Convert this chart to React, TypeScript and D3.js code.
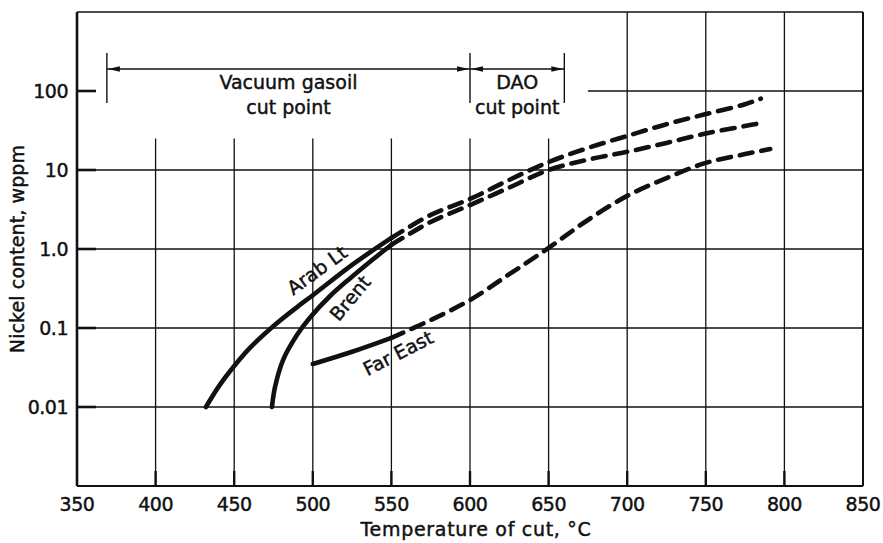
import React, { useEffect, useRef } from "react";
import * as d3 from "d3";

// axis ticks
const xTicks = [350, 400, 450, 500, 550, 600, 650, 700, 750, 800, 850];
const yTicks = [100, 10, 1, 0.1, 0.01];
const yTickLabels = ["100", "10", "1.0", "0.1", "0.01"];

// grid lines: the left ones stop under the cut point notes
const shortGridTemps = [400, 450, 500, 550, 600, 650];
const fullGridTemps = [700, 750, 800];
const shortGridTop = 25; // wppm
const grid100From = 675; // °C, where the 100 line starts

// curves (temperature °C, nickel wppm)
const arabTemp = [432, 440, 450, 460, 475, 490, 500, 525, 550, 575, 600, 625, 650, 675, 700, 725, 750, 775, 785];
const arabNi = [0.01, 0.018, 0.033, 0.056, 0.106, 0.184, 0.26, 0.63, 1.38, 2.7, 4.3, 7.5, 12.6, 19, 27, 38, 51, 68, 80];

const brentTemp = [474, 476, 481, 490, 498, 511, 524, 536, 550, 575, 600, 625, 650, 675, 700, 725, 750, 775, 787];
const brentNi = [0.01, 0.018, 0.039, 0.082, 0.134, 0.254, 0.43, 0.68, 1.13, 2.2, 3.6, 6, 10, 13.5, 17, 22, 29, 36, 40];

const farEastTemp = [500, 525, 550, 575, 600, 625, 650, 675, 700, 725, 750, 775, 791];
const farEastNi = [0.035, 0.05, 0.075, 0.126, 0.226, 0.48, 1.03, 2.33, 4.7, 7.9, 12.3, 15.9, 18.4];

const solidUntil = 550; // measured part; extrapolated part is dashed

// cut point ranges
const cutFrom = [369, 600];
const cutTo = [600, 660];
const cutLabels = [["Vacuum gasoil", "cut point"], ["DAO", "cut point"]];

const FONT = "DejaVu Sans";

export default function App() {
  const svgRef = useRef(null);

  useEffect(() => {
    const svg = d3.select(svgRef.current);
    svg.selectAll("*").remove();

    const W = 883, H = 543;
    const m = { left: 77, right: 20, top: 12, bottom: 57 };
    const x = d3.scaleLinear().domain([350, 850]).range([m.left, W - m.right]);
    const y = d3.scaleLog().domain([0.001, 1000]).range([H - m.bottom, m.top]);
    const ink = "#111";

    svg.append("rect").attr("width", W).attr("height", H).attr("fill", "#fff");

    // grid
    const g = svg.append("g").attr("stroke", ink).attr("stroke-width", 1.3);
    g.selectAll("line.vs")
      .data(shortGridTemps)
      .join("line")
      .attr("class", "vs")
      .attr("x1", d => x(d)).attr("x2", d => x(d))
      .attr("y1", y(0.001)).attr("y2", y(shortGridTop));
    g.selectAll("line.vf")
      .data(fullGridTemps)
      .join("line")
      .attr("class", "vf")
      .attr("x1", d => x(d)).attr("x2", d => x(d))
      .attr("y1", y(0.001)).attr("y2", y(1000));
    g.selectAll("line.h")
      .data(yTicks.filter(d => d < 100))
      .join("line")
      .attr("class", "h")
      .attr("x1", x(350)).attr("x2", x(850))
      .attr("y1", d => y(d)).attr("y2", d => y(d));
    g.append("line")
      .attr("x1", x(grid100From)).attr("x2", x(850))
      .attr("y1", y(100)).attr("y2", y(100));

    // frame
    const fr = svg.append("g").attr("stroke", ink).attr("fill", "none");
    fr.append("line").attr("x1", x(350)).attr("x2", x(350)).attr("y1", y(1000)).attr("y2", y(0.001)).attr("stroke-width", 2.6);
    fr.append("line").attr("x1", x(350)).attr("x2", x(850)).attr("y1", y(0.001)).attr("y2", y(0.001)).attr("stroke-width", 2.2);
    fr.append("line").attr("x1", x(850)).attr("x2", x(850)).attr("y1", y(1000)).attr("y2", y(0.001)).attr("stroke-width", 2);
    fr.append("line").attr("x1", x(350)).attr("x2", x(850)).attr("y1", y(1000)).attr("y2", y(1000)).attr("stroke-width", 1.6);

    // tick marks
    fr.selectAll("line.yt")
      .data(yTicks)
      .join("line")
      .attr("class", "yt")
      .attr("x1", x(350)).attr("x2", x(350) + 19)
      .attr("y1", d => y(d)).attr("y2", d => y(d))
      .attr("stroke-width", 2.6);
    fr.selectAll("line.xt")
      .data(xTicks.slice(1, -1))
      .join("line")
      .attr("class", "xt")
      .attr("x1", d => x(d)).attr("x2", d => x(d))
      .attr("y1", y(0.001)).attr("y2", y(0.001) - 15)
      .attr("stroke-width", 2.4);

    // text (slight stroke to match the heavy scanned type)
    const txt = svg.append("g")
      .attr("font-family", FONT)
      .attr("font-size", 19)
      .attr("fill", ink)
      .attr("stroke", ink)
      .attr("stroke-width", 0.45);
    txt.selectAll("text.xl")
      .data(xTicks)
      .join("text")
      .attr("class", "xl")
      .attr("x", d => x(d))
      .attr("y", y(0.001) + 25)
      .attr("text-anchor", "middle")
      .attr("letter-spacing", -0.5)
      .text(d => d);
    txt.selectAll("text.yl")
      .data(yTicks)
      .join("text")
      .attr("class", "yl")
      .attr("x", x(350) - 9)
      .attr("y", d => y(d))
      .attr("dy", "0.36em")
      .attr("text-anchor", "end")
      .attr("letter-spacing", -0.5)
      .text((d, i) => yTickLabels[i]);

    // axis titles
    txt.append("text")
      .attr("x", 476)
      .attr("y", 536)
      .attr("text-anchor", "middle")
      .attr("letter-spacing", 0.7)
      .text("Temperature of cut, °C");
    txt.append("text")
      .attr("transform", `translate(24, ${y(1)}) rotate(-90)`)
      .attr("text-anchor", "middle")
      .attr("letter-spacing", 0.1)
      .text("Nickel content, wppm");

    // cut point brackets
    const bY = 69, bTop = 53, bBot = 103;
    const br = svg.append("g").attr("stroke", ink).attr("stroke-width", 1.4);
    const ends = Array.from(new Set([...cutFrom, ...cutTo]));
    br.selectAll("line.bv")
      .data(ends)
      .join("line")
      .attr("class", "bv")
      .attr("x1", d => x(d)).attr("x2", d => x(d))
      .attr("y1", bTop).attr("y2", bBot);
    cutFrom.forEach((f, i) => {
      const t = cutTo[i];
      br.append("line").attr("x1", x(f)).attr("x2", x(t)).attr("y1", bY).attr("y2", bY);
      const arrow = (tip, dir) =>
        `M${tip},${bY} L${tip - dir * 12},${bY - 2.8} L${tip - dir * 12},${bY + 2.8} Z`;
      svg.append("path").attr("d", arrow(x(f) + 1, -1)).attr("fill", ink);
      svg.append("path").attr("d", arrow(x(t) - 1, 1)).attr("fill", ink);
      const cx = (x(f) + x(t)) / 2;
      txt.append("text").attr("x", cx).attr("y", 89).attr("text-anchor", "middle").text(cutLabels[i][0]);
      txt.append("text").attr("x", cx).attr("y", 114).attr("text-anchor", "middle").text(cutLabels[i][1]);
    });

    // curves
    const line = d3.line()
      .x(d => x(d[0]))
      .y(d => y(d[1]))
      .curve(d3.curveCatmullRom.alpha(0.5));
    const curves = [
      [arabTemp, arabNi],
      [brentTemp, brentNi],
      [farEastTemp, farEastNi],
    ];
    const cg = svg.append("g")
      .attr("fill", "none")
      .attr("stroke", ink)
      .attr("stroke-width", 4.6)
      .attr("stroke-linecap", "round");
    curves.forEach(([ts, vs]) => {
      const pts = ts.map((t, i) => [t, vs[i]]);
      cg.append("path").attr("d", line(pts.filter(p => p[0] <= solidUntil)));
      cg.append("path")
        .attr("d", line(pts.filter(p => p[0] >= solidUntil)))
        .attr("stroke-dasharray", "13 9");
    });

    // curve labels
    const labels = [
      { text: "Arab Lt", cx: 317, cy: 270, rot: -36 },
      { text: "Brent", cx: 350, cy: 298, rot: -50 },
      { text: "Far East", cx: 398, cy: 353, rot: -27 },
    ];
    txt.selectAll("text.cl")
      .data(labels)
      .join("text")
      .attr("class", "cl")
      .attr("transform", d => `translate(${d.cx}, ${d.cy}) rotate(${d.rot})`)
      .attr("text-anchor", "middle")
      .attr("dy", "0.36em")
      .text(d => d.text);
  }, []);

  return (
    <svg
      ref={svgRef}
      width={883}
      height={543}
      style={{ position: "absolute", left: 0, top: 0 }}
    />
  );
}
